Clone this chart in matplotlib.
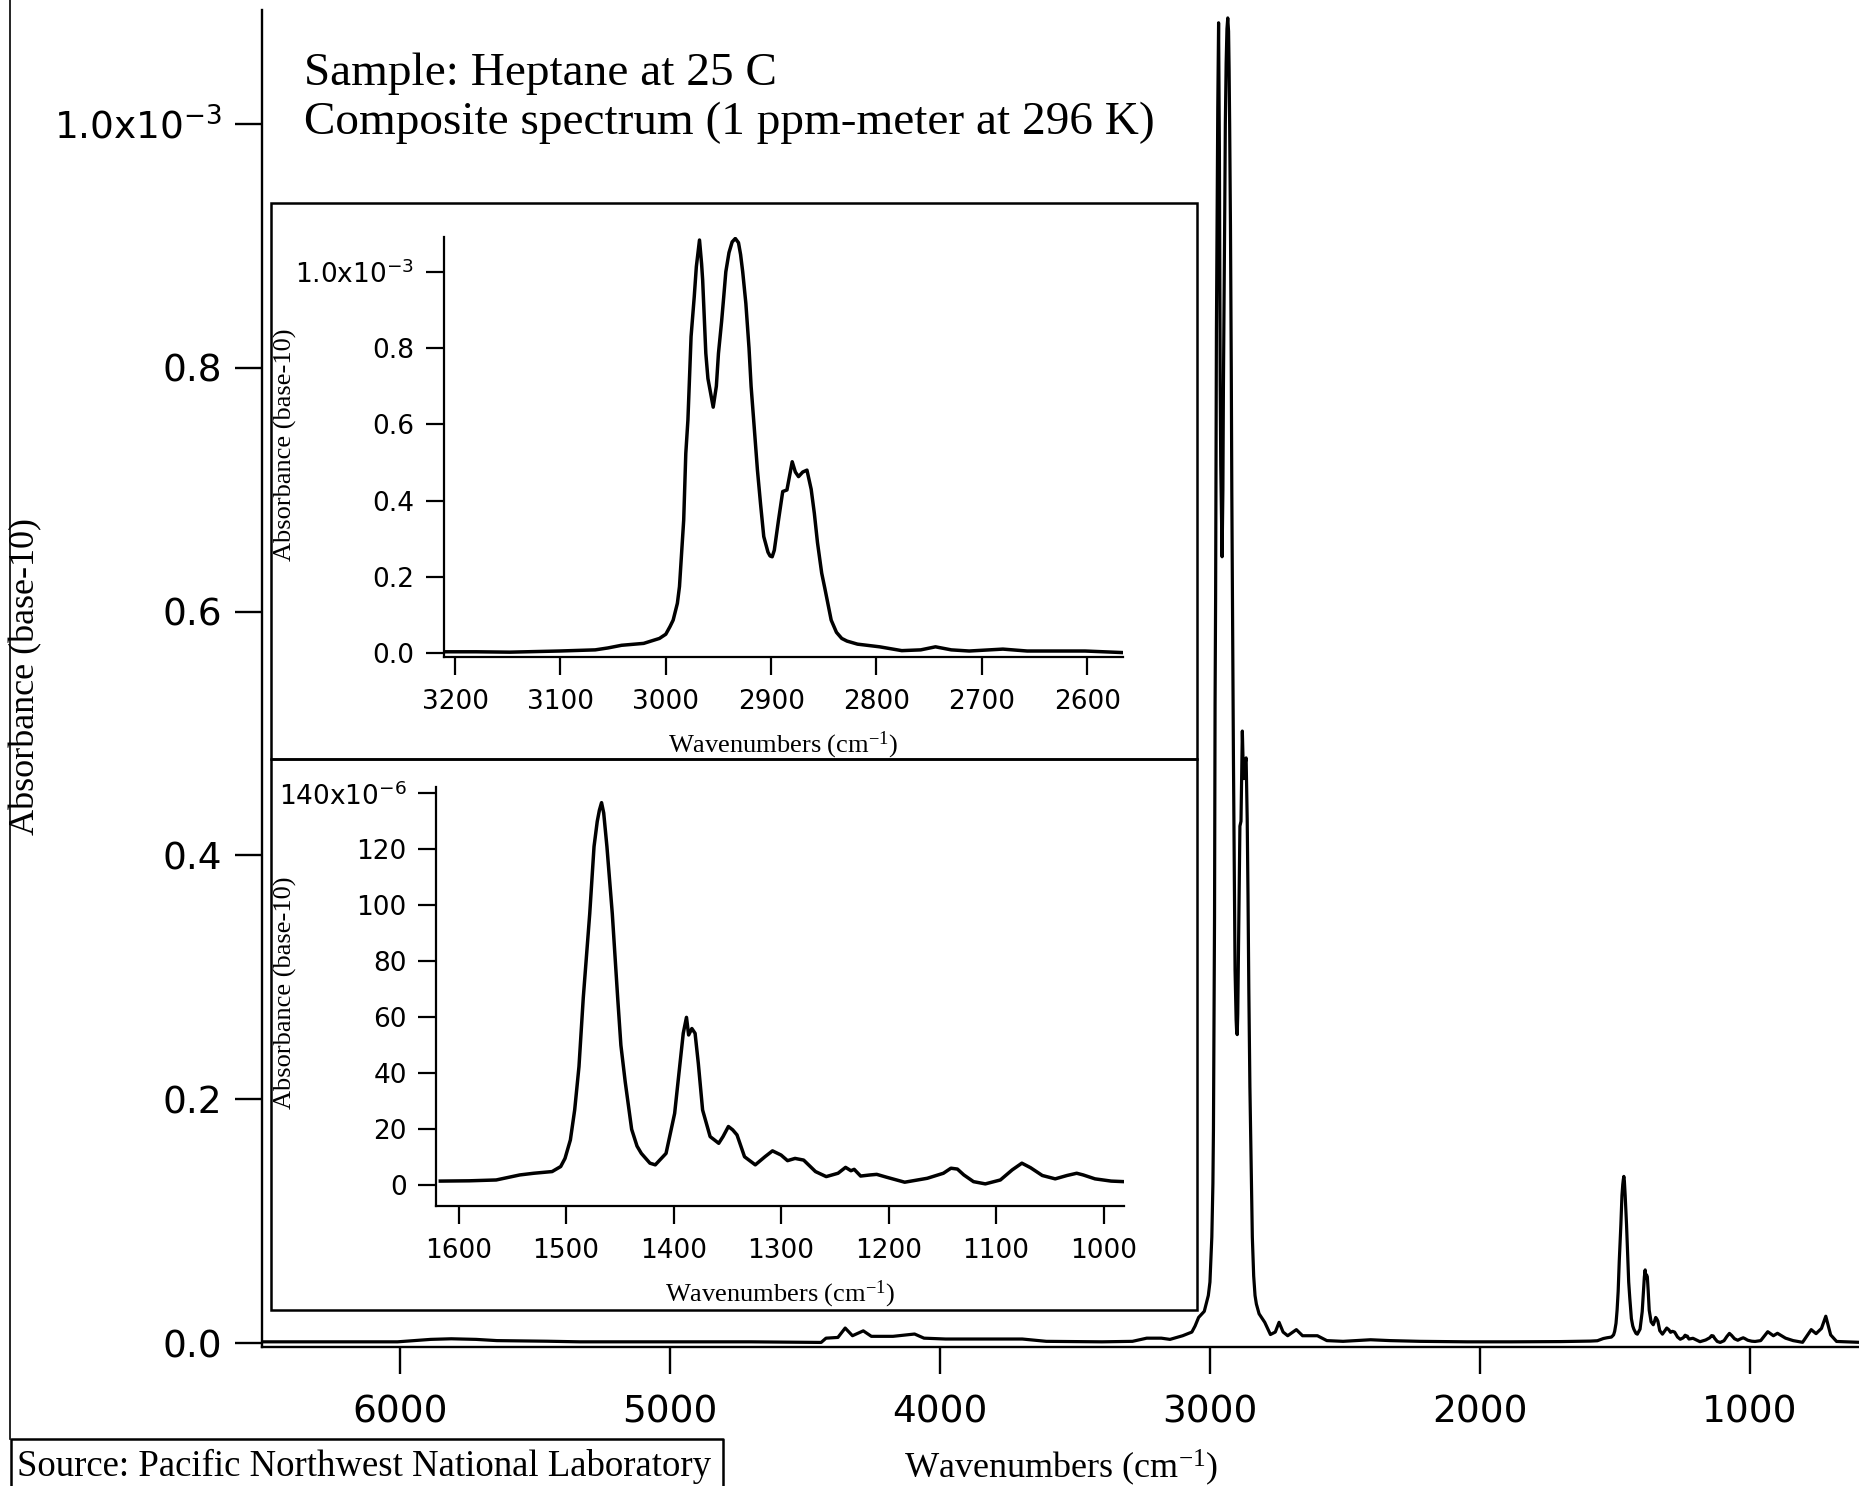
import numpy as np
import matplotlib
matplotlib.use('Agg')
import matplotlib.pyplot as plt
from matplotlib.lines import Line2D
from matplotlib.patches import Rectangle

# spectrum; absorbance of the main/CH insets in units of 1e-3
nir_wn = [6511, 6300, 6009, 5950, 5886, 5810, 5718, 5641, 5457, 5334, 5000, 4700,
          4440, 4422, 4378, 4351, 4324, 4284, 4254, 4174, 4094, 4059, 3979, 3819,
          3695, 3606, 3400, 3287, 3234]
nir_abs = [0.001, 0.001, 0.001, 0.002, 0.003, 0.0035, 0.003, 0.002, 0.0015, 0.001, 0.001, 0.001,
           0.0005, 0.004, 0.0046, 0.0123, 0.006, 0.010, 0.0055, 0.0055, 0.0074, 0.004, 0.0033, 0.0033,
           0.0033, 0.0014, 0.001, 0.0014, 0.004]

ch_wn = [3208, 3180, 3148, 3101, 3067, 3055, 3042, 3021, 3006, 3000, 2996, 2993,
         2989, 2987, 2985, 2983, 2981, 2979, 2976, 2973, 2971, 2968, 2966, 2965,
         2962, 2960, 2958, 2955, 2952, 2950, 2947, 2945, 2943, 2940, 2937, 2934,
         2931, 2929, 2927, 2924, 2921, 2919, 2916, 2913, 2910, 2907, 2903, 2901,
         2899, 2897, 2893, 2889, 2885, 2880, 2877, 2874, 2870, 2866, 2862, 2859,
         2856, 2852, 2849, 2843, 2838, 2833, 2828, 2818, 2797, 2776, 2758, 2744,
         2729, 2712, 2680, 2657, 2602, 2567]
ch_abs = [0.004, 0.004, 0.003, 0.006, 0.009, 0.014, 0.021, 0.026, 0.039, 0.050, 0.070, 0.087,
          0.131, 0.175, 0.262, 0.349, 0.524, 0.611, 0.830, 0.934, 1.013, 1.083, 1.020, 0.978,
          0.786, 0.720, 0.690, 0.645, 0.700, 0.786, 0.870, 0.934, 1.000, 1.050, 1.078, 1.087,
          1.076, 1.045, 1.000, 0.917, 0.800, 0.699, 0.590, 0.480, 0.390, 0.306, 0.265, 0.255,
          0.253, 0.270, 0.349, 0.424, 0.428, 0.502, 0.475, 0.463, 0.475, 0.480, 0.430, 0.367,
          0.290, 0.210, 0.170, 0.087, 0.055, 0.039, 0.032, 0.024, 0.017, 0.007, 0.009, 0.017,
          0.009, 0.006, 0.011, 0.006, 0.006, 0.002]

mid_wn = [2507, 2405, 2333, 2223, 2046, 1883, 1700]
mid_abs = [0.0014, 0.0027, 0.002, 0.0014, 0.001, 0.001, 0.0012]

# fingerprint region, units of 1e-6
fp_wn = [1617, 1590, 1565, 1543, 1530, 1513, 1505, 1501, 1496, 1492, 1488, 1484,
         1478, 1474, 1471, 1469, 1467, 1465, 1462, 1457, 1452, 1449, 1445, 1439,
         1434, 1430, 1422, 1417, 1407, 1399, 1394, 1391, 1388, 1386, 1383, 1380,
         1377, 1373, 1366, 1358, 1354, 1349, 1345, 1341, 1334, 1324, 1315, 1308,
         1300, 1294, 1287, 1279, 1268, 1258, 1247, 1240, 1235, 1232, 1226, 1217,
         1211, 1202, 1185, 1164, 1149, 1142, 1136, 1130, 1121, 1110, 1096, 1085,
         1076, 1068, 1057, 1045, 1034, 1025, 1019, 1008, 993, 981]
fp_abs = [1.5, 1.6, 1.9, 3.7, 4.3, 4.9, 6.7, 9.6, 16.2, 26.9, 42.4, 67,
          97, 121, 130, 134, 136.7, 133, 121, 97, 67, 50, 37, 20,
          14, 11.4, 7.9, 7.3, 11.4, 25.7, 43.6, 54.3, 60, 53.7, 56, 54.3,
          43.6, 26.9, 17.4, 15.0, 17.4, 21, 19.8, 18, 10.2, 7.3, 10.2, 12.3,
          10.8, 8.8, 9.6, 9.0, 4.9, 3.1, 4.3, 6.4, 5.2, 5.7, 3.3, 3.7,
          3.9, 2.9, 1.1, 2.5, 4.3, 6.1, 5.8, 3.7, 1.3, 0.5, 1.9, 5.5,
          7.9, 6.3, 3.5, 2.3, 3.5, 4.3, 3.7, 2.3, 1.5, 1.3]

low_wn = [960, 934, 913, 898, 868, 840, 805, 773, 755, 735, 719, 701, 679, 596]
low_abs = [0.002, 0.0093, 0.006, 0.008, 0.004, 0.002, 0.0006, 0.011, 0.0077, 0.012,
           0.022, 0.0067, 0.0013, 0.0006]

main_ticks = [6000, 5000, 4000, 3000, 2000, 1000]
ch_ticks = [3200, 3100, 3000, 2900, 2800, 2700, 2600]
fp_ticks = [1600, 1500, 1400, 1300, 1200, 1100, 1000]
abs_ticks = [0, 0.2, 0.4, 0.6, 0.8, 1.0]
abs_labels = ['0.0', '0.2', '0.4', '0.6', '0.8', '1.0x10$^{-3}$']
fp_yticks = [0, 20, 40, 60, 80, 100, 120, 140]
fp_ylabels = ['0', '20', '40', '60', '80', '100', '120', '140x10$^{-6}$']

plt.rcParams['font.family'] = 'DejaVu Sans'
plt.rcParams['mathtext.default'] = 'regular'
serif = 'Liberation Serif'

W, H = 1859, 1486


def box(l, t, r, b):
    return [l / W, 1 - b / H, (r - l) / W, (b - t) / H]


def style(ax, lw, tlen, lsize, xpad, ypad):
    ax.spines['top'].set_visible(False)
    ax.spines['right'].set_visible(False)
    for s in ('left', 'bottom'):
        ax.spines[s].set_linewidth(lw)
    ax.patch.set_alpha(0)
    ax.tick_params(direction='out', length=tlen, width=lw, labelsize=lsize, colors='k')
    ax.tick_params(axis='x', pad=xpad)
    ax.tick_params(axis='y', pad=ypad)


fig = plt.figure(figsize=(W / 100, H / 100), dpi=100)

main_wn = np.concatenate([nir_wn, ch_wn, mid_wn, fp_wn, low_wn])
main_abs = np.concatenate([nir_abs, ch_abs, mid_abs, np.array(fp_abs) * 1e-3, low_abs]) * 1e-3

ax = fig.add_axes(box(262, 10, 1859, 1346.7))
ax.plot(main_wn, main_abs, color='k', lw=2.3, solid_joinstyle='round')
ax.set_xlim(6511, 596)
ax.set_ylim(-0.003e-3, 1.0935e-3)
ax.set_xticks(main_ticks)
ax.set_xticklabels([str(t) for t in main_ticks])
ax.set_yticks(np.array(abs_ticks) * 1e-3)
ax.set_yticklabels(abs_labels)
style(ax, 1.7, 19.5, 27, 15, 9)

# CH stretch inset
ax1 = fig.add_axes(box(443.5, 236.7, 1123, 656.7))
ax1.plot(ch_wn, np.array(ch_abs) * 1e-3, color='k', lw=2.5, solid_joinstyle='round')
ax1.set_xlim(3211, 2566)
ax1.set_ylim(-0.0089e-3, 1.0917e-3)
ax1.set_xticks(ch_ticks)
ax1.set_xticklabels([str(t) for t in ch_ticks])
ax1.set_yticks(np.array(abs_ticks) * 1e-3)
ax1.set_yticklabels(abs_labels)
style(ax1, 1.6, 13, 19, 10, 8)

# fingerprint inset
ax2 = fig.add_axes(box(436, 786.7, 1124, 1206))
ax2.plot(fp_wn, np.array(fp_abs) * 1e-6, color='k', lw=2.5, solid_joinstyle='round')
ax2.set_xlim(1621, 981)
ax2.set_ylim(-7.4e-6, 142.4e-6)
ax2.set_xticks(fp_ticks)
ax2.set_xticklabels([str(t) for t in fp_ticks])
ax2.set_yticks(np.array(fp_yticks) * 1e-6)
ax2.set_yticklabels(fp_ylabels)
style(ax2, 1.6, 13, 19, 10, 8)

# inset frames
for top, bot in ((203, 759), (759, 1310)):
    fig.add_artist(Rectangle((271 / W, 1 - bot / H), (1197 - 271) / W, (bot - top) / H,
                             transform=fig.transFigure, fill=False, lw=1.8, ec='k'))

# axis titles
fig.text(1061 / W, 1 - 1478 / H, 'Wavenumbers (cm$^{-1}$)', family=serif, fontsize=26,
         ha='center', va='baseline')
fig.text(26 / W, 1 - 676 / H, 'Absorbance (base-10)', family=serif, fontsize=26,
         rotation=90, ha='center', va='center')
for cx, base in ((783, 752), (780, 1301)):
    fig.text(cx / W, 1 - base / H, 'Wavenumbers (cm$^{-1}$)', family=serif, fontsize=19,
             ha='center', va='baseline')
for cy in (445, 993):
    fig.text(285 / W, 1 - cy / H, 'Absorbance (base-10)', family=serif, fontsize=19,
             rotation=90, ha='center', va='center')

fig.text(304 / W, 1 - 85 / H, 'Sample: Heptane at 25 C', family=serif, fontsize=34,
         ha='left', va='baseline')
fig.text(304 / W, 1 - 134 / H, 'Composite spectrum (1 ppm-meter at 296 K)', family=serif,
         fontsize=34, ha='left', va='baseline')

# page edge line and source box
fig.add_artist(Line2D([9.5 / W, 9.5 / W], [1, 1 - 1439 / H], transform=fig.transFigure,
                      color='k', lw=1.2))
fig.add_artist(Line2D([10.5 / W, 10.5 / W, 723 / W, 723 / W],
                      [0, 1 - 1439 / H, 1 - 1439 / H, 0], transform=fig.transFigure,
                      color='k', lw=1.8))
fig.text(17 / W, 1 - 1476 / H, 'Source: Pacific Northwest National Laboratory', family=serif,
         fontsize=26.5, ha='left', va='baseline')

fig.savefig('out.png', dpi=100)
